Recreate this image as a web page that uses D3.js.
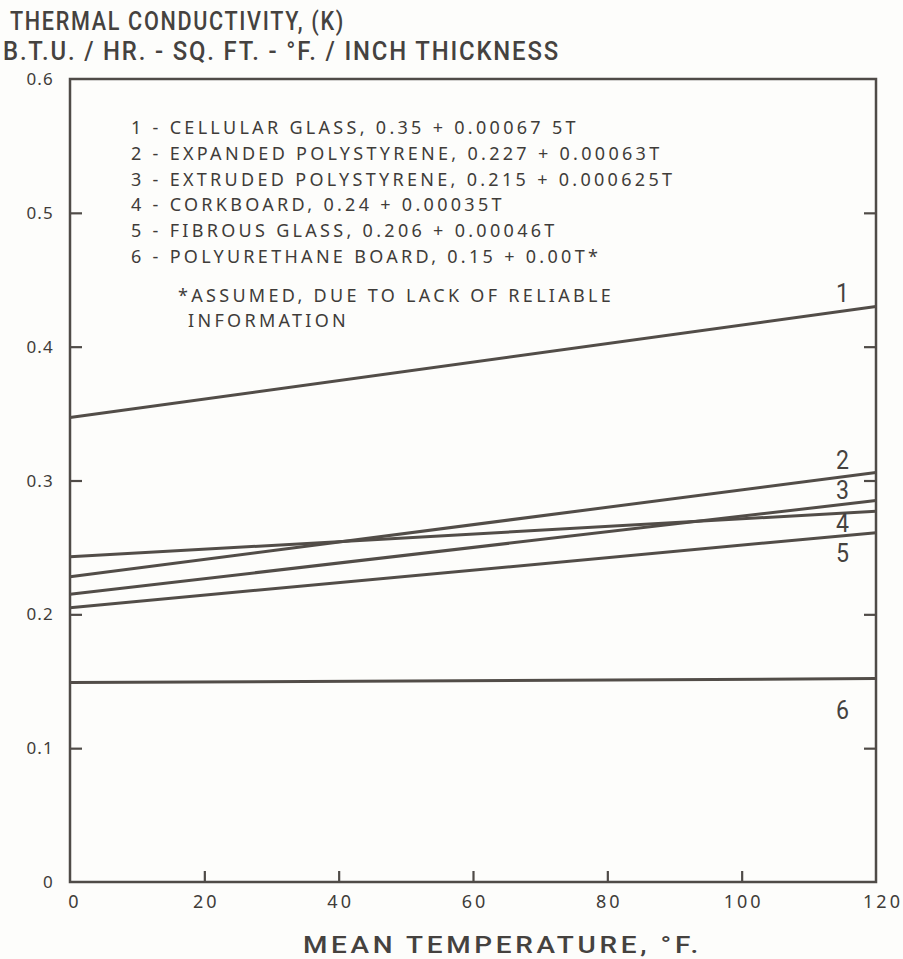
<!DOCTYPE html>
<html>
<head>
<meta charset="utf-8">
<script src="https://cdn.jsdelivr.net/npm/d3@7"></script>
<style>
  body { margin: 0; background: #fdfdfb; }
  svg { display: block; }
  .cond { font-family: Roboto, "DejaVu Sans", sans-serif; font-weight: 500; fill: #45423f; }
  .round { font-family: "Noto Sans", "Open Sans", sans-serif; fill: #3f3c39; }
</style>
</head>
<body>
<div id="chart"></div>
<script>
// mean temperature, deg F (each material is a straight line, so two ends)
const temps = [0, 120];

// K at T = 0 and T = 120
const cellularGlass = [0.347, 0.430];
const expandedPoly = [0.228, 0.306];
const extrudedPoly = [0.215, 0.285];
const corkboard = [0.243, 0.277];
const fibrousGlass = [0.205, 0.261];
const polyurethane = [0.149, 0.152];

const lineNames = ["1", "2", "3", "4", "5", "6"];
const legendText = [
  "1 - CELLULAR GLASS, 0.35 + 0.00067 5T",
  "2 - EXPANDED POLYSTYRENE, 0.227 + 0.00063T",
  "3 - EXTRUDED POLYSTYRENE, 0.215 + 0.000625T",
  "4 - CORKBOARD, 0.24 + 0.00035T",
  "5 - FIBROUS GLASS, 0.206 + 0.00046T",
  "6 - POLYURETHANE BOARD, 0.15 + 0.00T*"
];
const noteText = ["*ASSUMED, DUE TO LACK OF RELIABLE", "INFORMATION"];

const xTicks = [0, 20, 40, 60, 80, 100, 120];
const yTicks = [0, 0.1, 0.2, 0.3, 0.4, 0.5, 0.6];

const width = 903, height = 959;
const margin = {top: 79, right: 27, bottom: 77, left: 70};
const ink = "#4f4b47";

const svg = d3.select("#chart")
  .append("svg")
  .attr("width", width)
  .attr("height", height);

const xScale = d3.scaleLinear()
  .domain([0, 120])
  .range([margin.left, width - margin.right]);

const yScale = d3.scaleLinear()
  .domain([0, 0.6])
  .range([height - margin.bottom, margin.top]);

// frame
svg.append("rect")
  .attr("x", xScale(0))
  .attr("y", yScale(0.6))
  .attr("width", xScale(120) - xScale(0))
  .attr("height", yScale(0) - yScale(0.6))
  .attr("fill", "none")
  .attr("stroke", ink)
  .attr("stroke-width", 2.5);

// left axis, ticks point inward
const yLeft = svg.append("g")
  .attr("transform", `translate(${xScale(0)},0)`)
  .call(d3.axisRight(yScale).tickValues(yTicks.slice(1, 6)).tickSize(12).tickFormat(""));

// right axis, ticks point inward
const yRight = svg.append("g")
  .attr("transform", `translate(${xScale(120)},0)`)
  .call(d3.axisLeft(yScale).tickValues(yTicks.slice(1, 6)).tickSize(12).tickFormat(""));

// bottom axis, ticks point up
const xAxis = svg.append("g")
  .attr("transform", `translate(0,${yScale(0)})`)
  .call(d3.axisTop(xScale).tickValues(xTicks.slice(1, 6)).tickSize(11).tickFormat(""));

[yLeft, yRight, xAxis].forEach(g => {
  g.select(".domain").remove();
  g.selectAll("line").attr("stroke", ink).attr("stroke-width", 2.2);
});

// tick labels
svg.append("g").selectAll("text")
  .data(yTicks)
  .enter()
  .append("text")
  .attr("class", "round")
  .attr("x", xScale(0) - 16)
  .attr("y", d => yScale(d) + 6)
  .attr("text-anchor", "end")
  .attr("font-size", 17)
  .attr("letter-spacing", 1.2)
  .text(d => d === 0 ? "0" : d3.format(".1f")(d));

svg.append("g").selectAll("text")
  .data(xTicks)
  .enter()
  .append("text")
  .attr("class", "round")
  .attr("x", d => xScale(d) + (d === 120 ? 7 : d === 0 ? 5 : 2))
  .attr("y", yScale(0) + 26)
  .attr("text-anchor", "middle")
  .attr("font-size", 18)
  .attr("letter-spacing", 3)
  .text(d => d);

// data lines
const series = [cellularGlass, expandedPoly, extrudedPoly, corkboard, fibrousGlass, polyurethane];
const line = d3.line()
  .x((d, i) => xScale(temps[i]))
  .y(d => yScale(d));

svg.append("g").selectAll("path")
  .data(series)
  .enter()
  .append("path")
  .attr("d", d => line(d))
  .attr("fill", "none")
  .attr("stroke", "#524d48")
  .attr("stroke-width", 3);

// number at the right end of each line
const labelShift = [-14, -12, -11, 12, 20, 31];
svg.append("g").selectAll("text")
  .data(series)
  .enter()
  .append("text")
  .attr("class", "cond")
  .attr("x", xScale(120) - 40)
  .attr("y", (d, i) => yScale(d[1]) + labelShift[i] + 9)
  .attr("font-size", 26)
  .attr("textLength", 13)
  .attr("lengthAdjust", "spacingAndGlyphs")
  .style("font-weight", "normal")
  .text((d, i) => lineNames[i]);

// legend
svg.append("g").selectAll("text")
  .data(legendText)
  .enter()
  .append("text")
  .attr("class", "round")
  .attr("x", 131)
  .attr("y", (d, i) => 134 + i * 25.8)
  .attr("font-size", 18)
  .attr("letter-spacing", 3.3)
  .text(d => d);

svg.append("g").selectAll("text")
  .data(noteText)
  .enter()
  .append("text")
  .attr("class", "round")
  .attr("x", (d, i) => i === 0 ? 178 : 188)
  .attr("y", (d, i) => 302 + i * 25)
  .attr("font-size", 18)
  .attr("letter-spacing", 3.3)
  .text(d => d);

// titles (condensed look: glyphs squeezed to the measured width)
svg.append("text")
  .attr("class", "cond")
  .attr("x", 10)
  .attr("y", 30)
  .attr("font-size", 26)
  .attr("letter-spacing", 2)
  .attr("textLength", 335)
  .attr("lengthAdjust", "spacingAndGlyphs")
  .text("THERMAL CONDUCTIVITY, (K)");

svg.append("text")
  .attr("class", "cond")
  .attr("x", 3)
  .attr("y", 60)
  .attr("font-size", 26)
  .attr("letter-spacing", 2)
  .attr("textLength", 557)
  .attr("lengthAdjust", "spacingAndGlyphs")
  .text("B.T.U. / HR. - SQ. FT. - \u00B0F. / INCH THICKNESS");

svg.append("text")
  .attr("class", "cond")
  .attr("x", 303)
  .attr("y", 953)
  .attr("font-size", 23)
  .attr("letter-spacing", 3)
  .attr("textLength", 399)
  .attr("lengthAdjust", "spacingAndGlyphs")
  .text("MEAN TEMPERATURE, \u00B0F.");
</script>
</body>
</html>
